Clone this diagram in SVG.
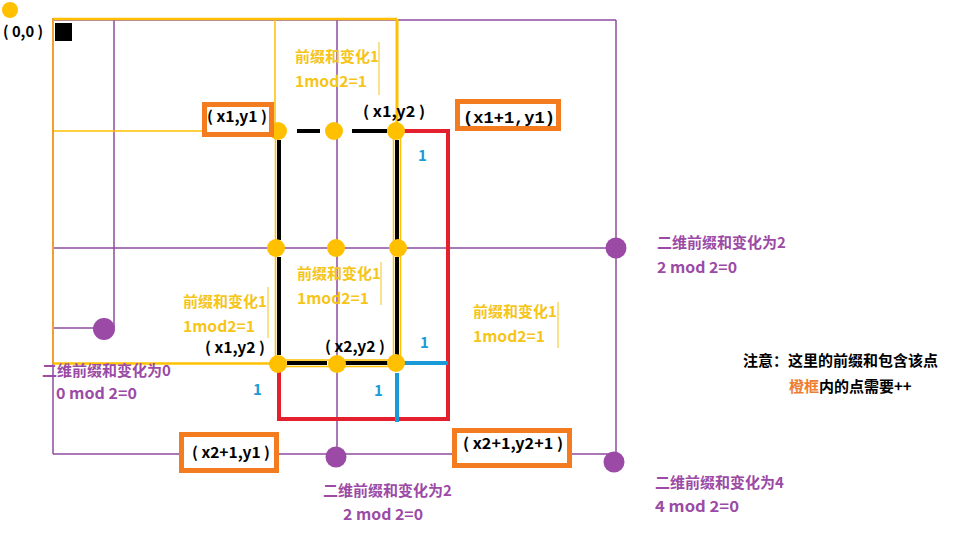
<svg xmlns="http://www.w3.org/2000/svg" width="960" height="540" viewBox="0 0 960 540">
<style>
text{font-family:"Noto Sans CJK SC","Noto Sans",sans-serif;font-weight:bold}
.p{fill:none;stroke:#8e4c9e;stroke-width:1.5}
.y{fill:none;stroke:#ffc000}
.k{fill:none;stroke:#000;stroke-width:4}
.ydot{fill:#ffc000}
.pdot{fill:#9b4aa6}
.box{fill:#fff;stroke:#f47c20;stroke-width:5}
.coord{font-size:15px;fill:#000}
.yt{font-size:15px;fill:#f5c518}
.pt{font-size:15px;fill:#9b4aa6}
.bt{font-size:15px;fill:#1a9ad6}
.bar{stroke:#f5c518;stroke-width:1}
</style>
<rect width="960" height="540" fill="#fff"/>
<g id="connectors">
<path class="p" d="M53,20H616M616,20V462M53,20V454M53,454H616M114,20V328M53,328H104M53,248H616M337,20V457"/>
<path class="y" stroke-width="2.5" d="M53,19H397"/>
<path class="y" stroke-width="3" d="M397,19V131"/>
<path class="y" stroke-width="1.5" d="M275,19V131M53,131H205"/>
<path class="y" stroke-width="2.5" d="M53,363.5H278"/>
<path fill="none" stroke="#f0a030" stroke-width="2" d="M53,18V364"/>
<path class="y" stroke-width="1.5" d="M275.5,131V363M393.5,131V363M400.5,131V363M279,360H397M279,366.5H397"/>
<path class="k" d="M297,131H320M352,131H387M279,140V240M279,257V355M397,140V240M397,257V355"/>
<path class="k" stroke-width="3" d="M287,363H327M345,363H388"/>
<polyline fill="none" stroke="#e5202e" stroke-width="4" points="397,131 448,131 448,419 279,419 279,372"/>
<path fill="none" stroke="#1a9ad6" stroke-width="4" d="M404,363H448M397,373V422"/>
<path class="bar" d="M379,42V95M381,262V305M268,287V338M558,302V348"/>
</g>
<g id="origin">
<circle class="ydot" cx="10" cy="10" r="8"/>
<rect x="55" y="23" width="17" height="18" fill="#000"/>
<text class="coord" x="3" y="37" textLength="40" lengthAdjust="spacingAndGlyphs">( 0,0 )</text>
</g>
<g id="grid-dots">
<circle class="ydot" cx="278" cy="131" r="9"/>
<circle class="ydot" cx="334" cy="131" r="9"/>
<circle class="ydot" cx="396" cy="131" r="9"/>
<circle class="ydot" cx="276" cy="248" r="9"/>
<circle class="ydot" cx="336" cy="248" r="9"/>
<circle class="ydot" cx="398" cy="248" r="9"/>
<circle class="ydot" cx="278" cy="364" r="9"/>
<circle class="ydot" cx="337" cy="364" r="9"/>
<circle class="ydot" cx="396" cy="363" r="9"/>
</g>
<g id="purple-dots">
<circle class="pdot" cx="104" cy="329" r="11"/>
<circle class="pdot" cx="616" cy="248" r="10.5"/>
<circle class="pdot" cx="336" cy="457" r="10.5"/>
<circle class="pdot" cx="614" cy="462" r="10.5"/>
</g>
<g id="box-x1y1">
<rect class="box" x="204.5" y="104.5" width="67" height="30"/>
<text class="coord" x="207" y="122" textLength="60" lengthAdjust="spacingAndGlyphs">( x1,y1 )</text>
</g>
<g id="label-x1y2-top">
<text class="coord" x="363" y="117" textLength="62" lengthAdjust="spacingAndGlyphs">( x1,y2 )</text>
</g>
<g id="box-x1p1y1">
<rect class="box" x="457.5" y="101.5" width="101" height="27"/>
<text x="463" y="123" font-family="Liberation Mono" font-size="16" font-weight="bold" fill="#000" textLength="92" lengthAdjust="spacingAndGlyphs" style="font-family:'Liberation Mono',monospace">(x1+1,y1)</text>
</g>
<g id="label-x1y2-bottom">
<text class="coord" x="205" y="353" textLength="60" lengthAdjust="spacingAndGlyphs">( x1,y2 )</text>
</g>
<g id="label-x2y2">
<text class="coord" x="325" y="352" textLength="60" lengthAdjust="spacingAndGlyphs">( x2,y2 )</text>
</g>
<g id="box-x2p1y1">
<rect class="box" x="181.5" y="434.5" width="95" height="36"/>
<text class="coord" x="192" y="458" textLength="78" lengthAdjust="spacingAndGlyphs">( x2+1,y1 )</text>
</g>
<g id="box-x2p1y2p1">
<rect class="box" x="454.5" y="430.5" width="115" height="35"/>
<text class="coord" x="463" y="449" textLength="100" lengthAdjust="spacingAndGlyphs">( x2+1,y2+1 )</text>
</g>
<g id="ylabel-top">
<text class="yt" x="295" y="62">前缀和变化1</text>
<text class="yt" x="295" y="87" textLength="72" lengthAdjust="spacingAndGlyphs">1mod2=1</text>
</g>
<g id="ylabel-center">
<text class="yt" x="297" y="279">前缀和变化1</text>
<text class="yt" x="297" y="304" textLength="72" lengthAdjust="spacingAndGlyphs">1mod2=1</text>
</g>
<g id="ylabel-left">
<text class="yt" x="183" y="307">前缀和变化1</text>
<text class="yt" x="183" y="332" textLength="72" lengthAdjust="spacingAndGlyphs">1mod2=1</text>
</g>
<g id="ylabel-right">
<text class="yt" x="473" y="317">前缀和变化1</text>
<text class="yt" x="473" y="342" textLength="72" lengthAdjust="spacingAndGlyphs">1mod2=1</text>
</g>
<g id="plabel-right">
<text class="pt" x="657" y="248">二维前缀和变化为2</text>
<text class="pt" x="657" y="273" textLength="80" lengthAdjust="spacingAndGlyphs">2 mod 2=0</text>
</g>
<g id="plabel-left">
<text class="pt" x="42" y="376">二维前缀和变化为0</text>
<text class="pt" x="56" y="399" textLength="81" lengthAdjust="spacingAndGlyphs">0 mod 2=0</text>
</g>
<g id="plabel-bottom">
<text class="pt" x="323" y="496">二维前缀和变化为2</text>
<text class="pt" x="343" y="520" textLength="80" lengthAdjust="spacingAndGlyphs">2 mod 2=0</text>
</g>
<g id="plabel-corner">
<text class="pt" x="655" y="488">二维前缀和变化为4</text>
<text class="pt" x="655" y="512" textLength="84" lengthAdjust="spacingAndGlyphs">4 mod 2=0</text>
</g>
<g id="ones">
<text class="bt" x="418" y="161">1</text>
<text class="bt" x="420" y="348">1</text>
<text class="bt" x="253" y="395">1</text>
<text class="bt" x="374" y="396">1</text>
</g>
<g id="note">
<text x="743" y="366" font-size="15" fill="#000">注意：这里的前缀和包含该点</text>
<text x="789" y="392" font-size="15" fill="#000"><tspan fill="#ee7d31">橙框</tspan>内的点需要++</text>
</g>
</svg>
